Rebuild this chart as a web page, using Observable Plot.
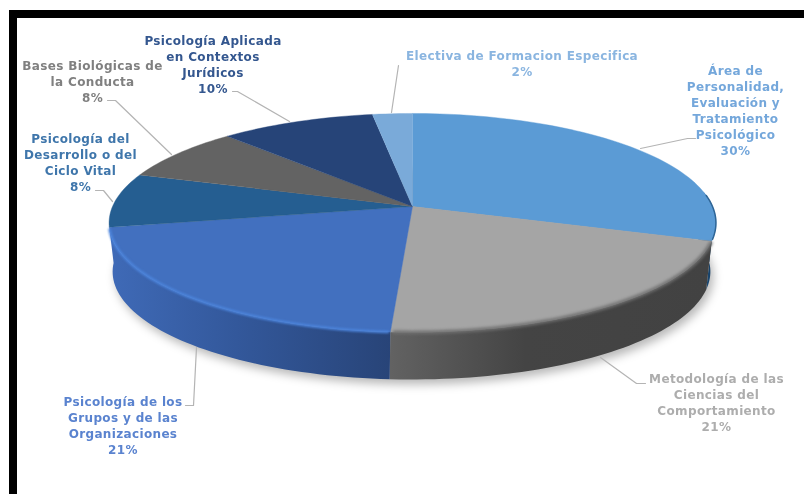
<!DOCTYPE html>
<html>
<head>
<meta charset="utf-8">
<script src="https://cdn.jsdelivr.net/npm/d3@7"></script>
<script src="https://cdn.jsdelivr.net/npm/@observablehq/plot@0.6"></script>
<style>html,body{margin:0;padding:0;background:#fff;overflow:hidden}</style>
</head>
<body>
<div id="chart"></div>
<script>
// ---- data ----
const categories = [
  "Área de\nPersonalidad,\nEvaluación y\nTratamiento\nPsicológico",
  "Metodología de las\nCiencias del\nComportamiento",
  "Psicología de los\nGrupos y de las\nOrganizaciones",
  "Psicología del\nDesarrollo o del\nCiclo Vital",
  "Bases Biológicas de\nla Conducta",
  "Psicología Aplicada\nen Contextos\nJurídicos",
  "Electiva de Formacion Especifica"
];
const values = [30, 21, 21, 8, 8, 9.55, 2.45];
const percentLabels = ["30%", "21%", "21%", "8%", "8%", "10%", "2%"];

// ---- styles ----
const topColors = ["#5b9bd5", "#a5a5a5", "#4270bf", "#255e91", "#636363", "#264478", "#7aaad9"];
const labelColors = ["#74a7db", "#adadad", "#5a83cf", "#3f76ab", "#808080", "#34578f", "#8ab5e0"];
const wallFills = ["url(#wall0)", "url(#wall1)", "url(#wall2)"];

// ---- layout ----
const labelCenters = [[735, 109.5], [716, 401.5], [122.5, 424.5], [80, 161.5], [92, 80.5], [212.5, 63], [521.5, 62]];
const leaders = [
  [[640, 148], [687, 138], [695, 138]],
  [[600, 357], [636, 383], [645, 383]],
  [[196, 347], [193, 405], [185, 405]],
  [[95, 190], [103, 190], [112, 201]],
  [[107, 100], [115, 100], [171, 154]],
  [[232, 91], [237, 91], [289, 121]],
  [[398, 65], [391, 112]]
];
const apex = [412, 206];
const radiusX = 300, radiusY = 107, tilt = 0.15;
const wallShrink = 0.985, wallDepth = 49, wallShift = -1;
const visibleFrom = 82, visibleTo = 266;

// perspective view of a point on the pie rim (degrees clockwise from 12 o'clock)
function rim(deg, bottom = false) {
  const t = deg * Math.PI / 180, u = Math.sin(t), v = Math.cos(t), w = 1 + tilt * v;
  const dx = radiusX * u / w, dy = -radiusY * v / w;
  return bottom
    ? {x: apex[0] + wallShrink * dx + wallShift, y: apex[1] + wallShrink * dy + wallDepth}
    : {x: apex[0] + dx, y: apex[1] + dy};
}
const arcRange = (a, b, bottom) => {
  const n = Math.max(2, Math.ceil(Math.abs(b - a) / 1.5));
  return d3.range(n + 1).map(i => rim(a + (b - a) * i / n, bottom));
};

const total = d3.sum(values);
let run = 0;
const slices = values.map((v, i) => {
  const start = run / total * 360; run += v; const end = run / total * 360;
  return {i, start, end};
});

const wedgeMarks = slices.map(s => Plot.line(
  [{x: apex[0], y: apex[1]}, ...arcRange(s.start, s.end)],
  {x: "x", y: "y", fill: topColors[s.i], stroke: topColors[s.i], strokeWidth: 0.4}
));
// the third slice's wall runs on to the left silhouette
const wallMarks = slices.slice(0, 3).map(s => {
  const a = Math.max(s.start, visibleFrom), b = s.i === 2 ? visibleTo : s.end;
  return Plot.line(
    [...arcRange(a, s.end), ...arcRange(b, a, true)],
    {x: "x", y: "y", fill: wallFills[s.i], stroke: "none"}
  );
});

function defs() {
  const d = d3.create("svg:defs");
  const grad = (id, x1, x2, stops) => {
    const g = d.append("linearGradient").attr("id", id)
      .attr("gradientUnits", "userSpaceOnUse")
      .attr("x1", x1).attr("x2", x2).attr("y1", 0).attr("y2", 0);
    stops.forEach(([o, c]) => g.append("stop").attr("offset", o).attr("stop-color", c));
  };
  grad("wall0", 690, 716, [[0, "#2f6ea8"], [0.6, "#1b4a75"], [1, "#123454"]]);
  grad("wall1", 390, 710, [[0, "#626262"], [0.42, "#444444"], [1, "#424242"]]);
  grad("wall2", 110, 390, [[0, "#3f6ab7"], [0.45, "#33589b"], [1, "#284478"]]);
  return d.node();
}

const textMarks = slices.map(s => Plot.text([labelCenters[s.i]], {
  x: d => d[0], y: d => d[1],
  text: () => categories[s.i] + "\n" + percentLabels[s.i],
  fill: labelColors[s.i],
  fontFamily: "DejaVu Sans", fontWeight: "bold", fontSize: 12,
  lineHeight: 1.335, textAnchor: "middle", lineAnchor: "middle",
  imageFilter: "blur(0.3px)"
}));
const leaderMarks = leaders.map(l => Plot.line(l, {
  x: d => d[0], y: d => d[1], stroke: "#b4b4b4", strokeWidth: 1.2
}));

const frame = [
  {x1: 9, x2: 804, y1: 10, y2: 18},
  {x1: 9, x2: 17, y1: 10, y2: 494}
];

const plot = Plot.plot({
  width: 804, height: 494,
  marginTop: 0, marginRight: 0, marginBottom: 0, marginLeft: 0,
  x: {domain: [0, 804], range: [0, 804], axis: null},
  y: {domain: [0, 494], range: [0, 494], axis: null},
  style: {background: "#fff", letterSpacing: "0.35px"},
  marks: [
    defs,
    Plot.rect(frame, {x1: "x1", x2: "x2", y1: "y1", y2: "y2", fill: "#000"}),
    Plot.line(arcRange(0, 360, true).map(p => ({x: p.x + 3, y: p.y + 5})),
      {x: "x", y: "y", fill: "#000", fillOpacity: 0.28, stroke: "none", imageFilter: "blur(5px)"}),
    ...wallMarks,
    ...wedgeMarks,
    // soft rim where the top meets the wall
    Plot.line(arcRange(184, 258), {x: "x", y: "y", stroke: "#4c85dd", strokeWidth: 2.6, imageFilter: "blur(0.9px)"}),
    Plot.line(arcRange(109, 183), {x: "x", y: "y", stroke: "#707070", strokeWidth: 3.5, imageFilter: "blur(1.5px)"}),
    Plot.line(arcRange(84, 107), {x: "x", y: "y", stroke: "#2f6596", strokeWidth: 1.5, imageFilter: "blur(0.7px)"}),
    ...leaderMarks,
    ...textMarks
  ]
});
document.getElementById("chart").appendChild(plot);
</script>
</body>
</html>
